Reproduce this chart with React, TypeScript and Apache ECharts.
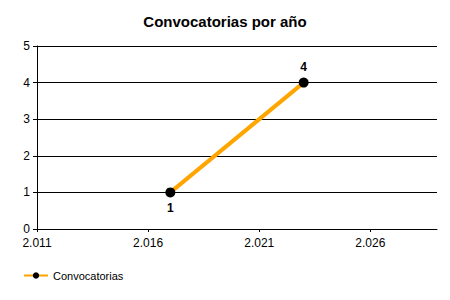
import React, { useEffect, useRef } from "react";
import * as echarts from "echarts";

const title = "Convocatorias por año";
const seriesName = "Convocatorias";
const years = [2017, 2023];
const counts = [1, 4];
const xTicks = [2011, 2016, 2021, 2026];
const yTicks = [0, 1, 2, 3, 4, 5];

const fmt = (v: number) => {
  const s = String(Math.round(v));
  return s.replace(/\B(?=(\d{3})+(?!\d))/g, ".");
};

export default function App() {
  const ref = useRef<HTMLDivElement>(null);
  useEffect(() => {
    if (!ref.current) return;
    const chart = echarts.init(ref.current, undefined, { renderer: "svg" });
    const font = "'Liberation Sans', Arial, sans-serif";
    chart.setOption({
      animation: false,
      backgroundColor: "#ffffff",
      title: {
        text: title,
        left: "center",
        top: 9,
        textStyle: { fontFamily: font, fontSize: 15, fontWeight: "bold", color: "#000" },
      },
      grid: { left: 37, right: 13, top: 46, bottom: 71, containLabel: false },
      legend: {
        left: 18,
        bottom: 14,
        itemWidth: 24,
        itemHeight: 8,
        itemGap: 4,
        textStyle: { fontFamily: font, fontSize: 11, color: "#000" },
        data: [seriesName],
      },
      xAxis: {
        type: "value",
        min: 2011,
        max: 2029,
        axisLine: { show: true, onZero: false, lineStyle: { color: "#000", width: 1 } },
        axisTick: { show: true, length: 3, customValues: xTicks, lineStyle: { color: "#000" } },
        axisLabel: {
          customValues: xTicks,
          formatter: (v: number) => fmt(v),
          fontFamily: font,
          fontSize: 12,
          color: "#000",
          margin: 8,
        },
        splitLine: { show: false },
      },
      yAxis: {
        type: "value",
        min: 0,
        max: 5,
        interval: 1,
        axisLine: { show: true, lineStyle: { color: "#000", width: 1 } },
        axisTick: { show: true, length: 4, lineStyle: { color: "#000" } },
        axisLabel: {
          fontFamily: font,
          fontSize: 12,
          color: "#000",
          margin: 7,
          formatter: (v: number) => (yTicks.includes(v) ? String(v) : ""),
        },
        splitLine: { show: true, lineStyle: { color: "#000", width: 1 } },
      },
      series: [
        {
          name: seriesName,
          type: "line",
          data: years.map((y, i) => ({
            value: [y, counts[i]],
            label: { position: i === years.length - 1 ? "top" : "bottom" },
          })),
          symbol: "circle",
          symbolSize: 10,
          itemStyle: { color: "#000" },
          lineStyle: { color: "#FFA500", width: 4 },
          label: {
            show: true,
            formatter: (p: any) => String(p.value[1]),
            distance: 5,
            fontFamily: font,
            fontSize: 12,
            fontWeight: "bold",
            color: "#000",
          },
          emphasis: { disabled: true },
        },
      ],
    });
    return () => chart.dispose();
  }, []);
  return <div ref={ref} style={{ width: 450, height: 300, position: "absolute", left: 0, top: 0 }} />;
}
